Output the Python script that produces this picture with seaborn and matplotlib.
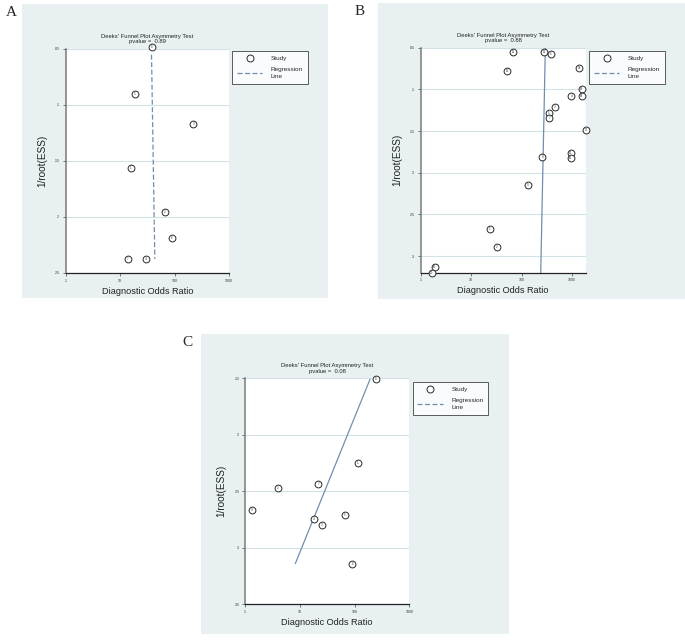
import matplotlib
matplotlib.use("Agg")
import matplotlib.pyplot as plt
from matplotlib.patches import Rectangle
from matplotlib.lines import Line2D
import seaborn as sns
import pandas as pd

sns.set_theme(style="white")
plt.rcParams['font.family'] = ['Liberation Sans', 'DejaVu Sans']

# ---------------- data ----------------
title_text = "Deeks' Funnel Plot Asymmetry Test"
pvalues = ["0.89", "0.88", "0.08"]

a_dor = [38.7, 18.4, 222, 15.7, 66.1, 90.1, 13.7, 29.3]
a_ess = [0.0488, 0.0907, 0.1174, 0.1562, 0.196, 0.2186, 0.2375, 0.2375]
a_id = ["8", "5", "3", "1", "2", "6", "7", "4"]
a_reg_x = [37.7, 43.4]
a_reg_y = [0.0553, 0.2375]

b_dor = [66.8, 277, 376, 51.5, 1376, 1555, 968, 1555, 458, 343, 353, 1897,
         939, 939, 256, 133, 23.3, 32.6, 1.90, 1.66]
b_ess = [0.0556, 0.0556, 0.0576, 0.0776, 0.0744, 0.0996, 0.1075, 0.1079, 0.1215,
         0.1279, 0.1343, 0.1483, 0.1762, 0.1818, 0.1810, 0.2149, 0.2673, 0.2888,
         0.3136, 0.3200]
b_id = ["11", "12", "6", "13", "14", "19", "4", "18", "3", "5", "7", "17",
        "15", "16", "8", "9", "1", "2", "10", "20"]
b_reg_x = [294, 238]
b_reg_y = [0.05, 0.32]

c_dor = [247, 116, 21.8, 4.0, 1.32, 18.2, 25.1, 66.1, 91.2]
c_ess = [0.1509, 0.2249, 0.2432, 0.2470, 0.2665, 0.2741, 0.2798, 0.2712, 0.3139]
c_id = ["8", "1", "7", "2", "9", "4", "3", "5", "6"]
c_reg_x = [8.3, 191.6]
c_reg_y = [0.3139, 0.1509]

a_yticks = [0.05, 0.1, 0.15, 0.2, 0.25]
a_ylabels = [".05", ".1", ".15", ".2", ".25"]
b_yticks = [0.05, 0.1, 0.15, 0.2, 0.25, 0.3]
b_ylabels = [".05", ".1", ".15", ".2", ".25", ".3"]
c_yticks = [0.15, 0.2, 0.25, 0.3, 0.35]
c_ylabels = [".15", ".2", ".25", ".3", ".35"]
xticks = [1, 10, 100, 1000]
xlabels = ["1", "10", "100", "1000"]

# ---------------- layout (pixels) ----------------
W, H = 685, 641
fig = plt.figure(figsize=(W / 100, H / 100), dpi=100)
fig.patch.set_facecolor("white")

BG = "#e8f0f2"
GRID = "#d3e0e6"


def fx(x):
    return x / W


def fy(y):
    return 1 - y / H


def add_bg(x0, y0, x1, y1):
    fig.patches.append(Rectangle((fx(x0), fy(y1)), fx(x1) - fx(x0), fy(y0) - fy(y1),
                                 transform=fig.transFigure, facecolor=BG,
                                 edgecolor="none", zorder=-5))


def panel(letter, letter_xy, bg, axbox, legbox, dor, ess, ids, regx, regy,
          xlim, ylim, yticks, ylabels, pval, dashed):
    add_bg(*bg)
    fig.text(fx(letter_xy[0]), fy(letter_xy[1]), letter, family=['Liberation Serif', 'DejaVu Serif'],
             fontsize=11, ha="left", va="top")
    l, t, r, b = axbox
    ax = fig.add_axes([fx(l), fy(b), fx(r) - fx(l), fy(t) - fy(b)])
    ax.set_zorder(2)
    ax.set_facecolor("white")
    ax.set_xscale("log")
    ax.set_xlim(*xlim)
    ax.set_ylim(*ylim)
    for yv in yticks:
        ax.axhline(yv, color=GRID, lw=0.8, zorder=0.5)
    df = pd.DataFrame({"dor": dor, "ess": ess})
    sns.scatterplot(data=df, x="dor", y="ess", ax=ax, s=24, color="white",
                    edgecolor="#2a2a2a", linewidth=0.7, zorder=3, legend=False,
                    clip_on=False)
    for xv, yv, lab in zip(dor, ess, ids):
        ax.text(xv, yv, lab, fontsize=2.2, ha="center", va="center", color="#333333", zorder=4)
    rdf = pd.DataFrame({"x": regx, "y": regy})
    sns.lineplot(data=rdf, x="x", y="y", ax=ax, sort=False, color="#6f8fae",
                 lw=0.9, linestyle=(0, (4, 2)) if dashed else "-", zorder=2)
    ax.set_yticks(yticks)
    ax.set_yticklabels(ylabels)
    ax.set_xticks(xticks)
    ax.set_xticklabels(xlabels)
    ax.minorticks_off()
    ax.tick_params(axis="both", which="major", labelsize=2.6, length=2.5, width=0.5,
                   color="#444444", labelcolor="#333333", pad=1.5,
                   left=True, bottom=True)
    for s in ["top", "right"]:
        ax.spines[s].set_visible(False)
    ax.spines["left"].set_color("#7a7a7a")
    ax.spines["left"].set_linewidth(1.1)
    ax.spines["bottom"].set_color("#222222")
    ax.spines["bottom"].set_linewidth(0.9)
    ax.set_xlabel("Diagnostic Odds Ratio", fontsize=6.6, labelpad=3, color="#222222")
    ax.set_ylabel("1/root(ESS)", fontsize=7.2, labelpad=6, color="#222222")
    ax.set_title(title_text + "\npvalue =  " + pval, fontsize=4.2, pad=4, color="#222222",
                 linespacing=1.1)
    # legend
    lx0, ly0, lx1, ly1 = legbox
    handles = [Line2D([], [], marker="o", ls="none", mfc="white", mec="#2a2a2a",
                      ms=5, mew=0.7),
               Line2D([], [], color="#6f8fae", lw=0.9, ls=(0, (4, 2)))]
    leg = fig.legend(handles, ["Study", "Regression\nLine"], loc="upper left",
                     bbox_to_anchor=(fx(lx0), fy(ly0)), fontsize=4.6,
                     frameon=True, fancybox=False, borderpad=0.75,
                     handlelength=4.0, handletextpad=1.3, labelspacing=0.9,
                     borderaxespad=0)
    for t in leg.get_texts():
        t.set_linespacing(1.45)
    leg.get_frame().set_edgecolor("#333333")
    leg.get_frame().set_linewidth(0.7)
    leg.set_zorder(5)
    return ax


panel("A", (6, 6), (22, 4, 328, 298), (65.7, 48.7, 229, 273), (232, 51, 303, 88),
      a_dor, a_ess, a_id, a_reg_x, a_reg_y, (1, 1000), (0.25, 0.05),
      a_yticks, a_ylabels, pvalues[0], True)
panel("B", (355, 5), (378, 3, 685, 299), (420.7, 47.7, 585.7, 272.7), (589, 51, 660, 88),
      b_dor, b_ess, b_id, b_reg_x, b_reg_y, (1, 1850), (0.32, 0.05),
      b_yticks, b_ylabels, pvalues[1], False)
panel("C", (182, 336), (201, 334, 509, 634), (245, 378.3, 409.3, 604.3), (412.7, 382, 483, 419),
      c_dor, c_ess, c_id, c_reg_x, c_reg_y, (1, 1000), (0.35, 0.15),
      c_yticks, c_ylabels, pvalues[2], False)

fig.savefig("out.png", dpi=100, facecolor="white")
